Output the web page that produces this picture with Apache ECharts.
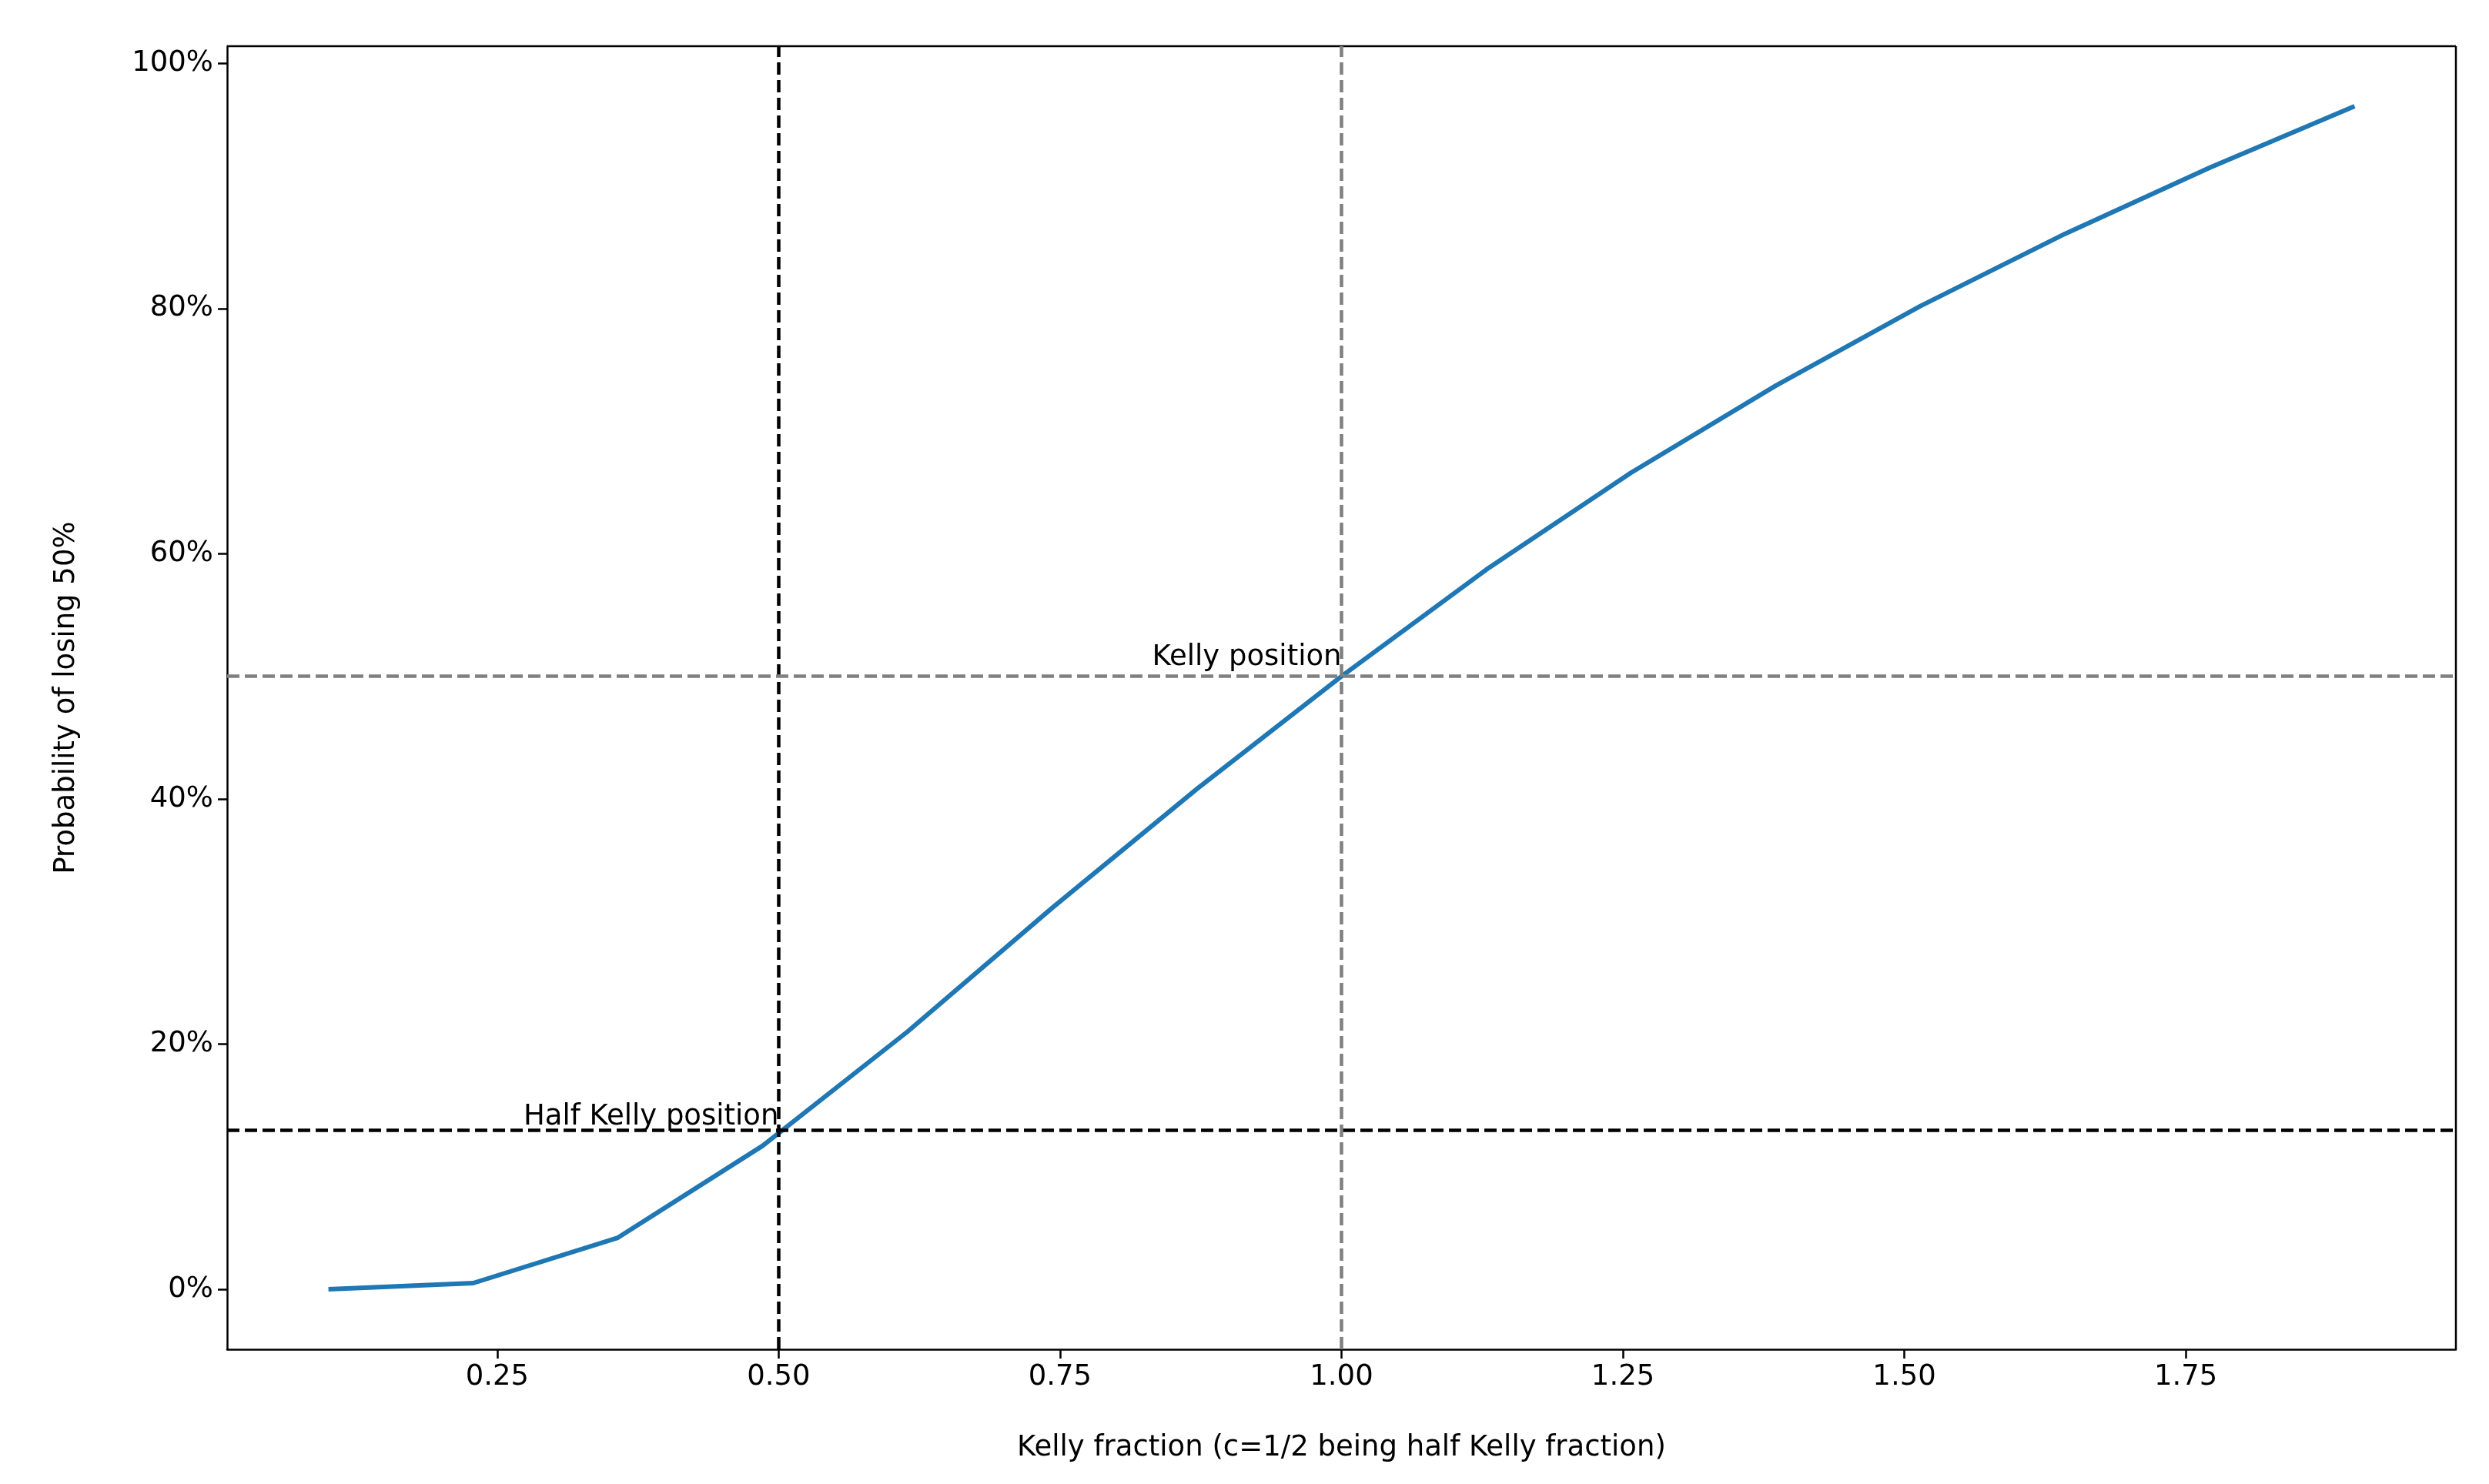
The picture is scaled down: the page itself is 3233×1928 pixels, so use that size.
<!DOCTYPE html>
<html>
<head>
<meta charset="utf-8">
<script src="https://cdn.jsdelivr.net/npm/echarts@6/dist/echarts.min.js"></script>
<style>html,body{margin:0;padding:0;background:#fff}#chart{width:3233px;height:1928px}</style>
</head>
<body>
<div id="chart"></div>
<script>
// Kelly fraction samples and the read-off probabilities
var fractions = [0.1, 0.2286, 0.3571, 0.4857, 0.6143, 0.7429, 0.8714, 1.0, 1.1286, 1.2571, 1.3857, 1.5143, 1.6429, 1.7714, 1.9];
var probs = [0.0, 0.005, 0.042, 0.117, 0.21, 0.311, 0.408, 0.5, 0.587, 0.666, 0.737, 0.802, 0.861, 0.915, 0.965];
var xTicks = [0.25, 0.5, 0.75, 1.0, 1.25, 1.5, 1.75];
var yTicks = [0, 0.2, 0.4, 0.6, 0.8, 1.0];
var halfKelly = { x: 0.5, y: 0.125, label: 'Half Kelly position' };
var fullKelly = { x: 1.0, y: 0.5, label: 'Kelly position' };

var font = 'DejaVu Sans';
var chart = echarts.init(document.getElementById('chart'));
var dashed = function(color) {
	return { color: color, type: [16, 7], width: 4.5, opacity: 1 };
};
chart.setOption({
	animation: false,
	grid: { left: 295, right: 43, top: 60, bottom: 175 },
	xAxis: {
		type: 'value', min: 0.01, max: 1.99,
		name: 'Kelly fraction (c=1/2 being half Kelly fraction)',
		nameLocation: 'middle', nameGap: 110,
		nameTextStyle: { fontFamily: font, fontSize: 37, color: '#000' },
		axisLine: { onZero: false, lineStyle: { color: '#000', width: 2.5 } },
		axisTick: { customValues: xTicks, length: 12, lineStyle: { color: '#000', width: 2.5 } },
		axisLabel: { customValues: xTicks, fontFamily: font, fontSize: 37, color: '#000', margin: 18,
			formatter: function(v) { return v.toFixed(2); } },
		splitLine: { show: false }
	},
	yAxis: {
		type: 'value', min: -0.049, max: 1.014,
		name: 'Probability of losing 50%',
		nameLocation: 'middle', nameGap: 190,
		nameTextStyle: { fontFamily: font, fontSize: 37, color: '#000' },
		axisLine: { show: true, onZero: false, lineStyle: { color: '#000', width: 2.5 } },
		axisTick: { show: true, customValues: yTicks, length: 12, lineStyle: { color: '#000', width: 2.5 } },
		axisLabel: { customValues: yTicks, fontFamily: font, fontSize: 37, color: '#000', margin: 18,
			formatter: function(v) { return Math.round(v * 100) + '%'; } },
		splitLine: { show: false }
	},
	series: [{
		type: 'line',
		data: fractions.map(function(f, i) { return [f, probs[i]]; }),
		symbol: 'none',
		lineStyle: { color: '#1f77b4', width: 6 },
		z: 3,
		markLine: {
			silent: true, symbol: 'none', label: { show: false },
			data: [
				{ xAxis: halfKelly.x, lineStyle: dashed('#000') },
				{ yAxis: halfKelly.y, lineStyle: dashed('#000') },
				{ xAxis: fullKelly.x, lineStyle: dashed('#808080') },
				{ yAxis: fullKelly.y, lineStyle: dashed('#808080') }
			]
		}
	}, {
		type: 'scatter',
		symbolSize: 0,
		data: [[halfKelly.x, halfKelly.y, halfKelly.label], [fullKelly.x, fullKelly.y, fullKelly.label]],
		label: {
			show: true, position: 'left', distance: 0, offset: [0, -24],
			fontFamily: font, fontSize: 37, color: '#000', opacity: 1,
			formatter: function(p) { return p.value[2]; }
		},
		z: 5
	}]
});
// frame lines on the top and right sides
var tr = chart.convertToPixel('grid', [1.99, 1.014]);
var tlft = chart.convertToPixel('grid', [0.01, 1.014]);
var br = chart.convertToPixel('grid', [1.99, -0.049]);
chart.setOption({
	graphic: [
		{ type: 'line', shape: { x1: tlft[0], y1: tlft[1], x2: tr[0], y2: tr[1] }, style: { stroke: '#000', lineWidth: 2.5 } },
		{ type: 'line', shape: { x1: tr[0], y1: tr[1], x2: br[0], y2: br[1] }, style: { stroke: '#000', lineWidth: 2.5 } }
	]
});
</script>
</body>
</html>
